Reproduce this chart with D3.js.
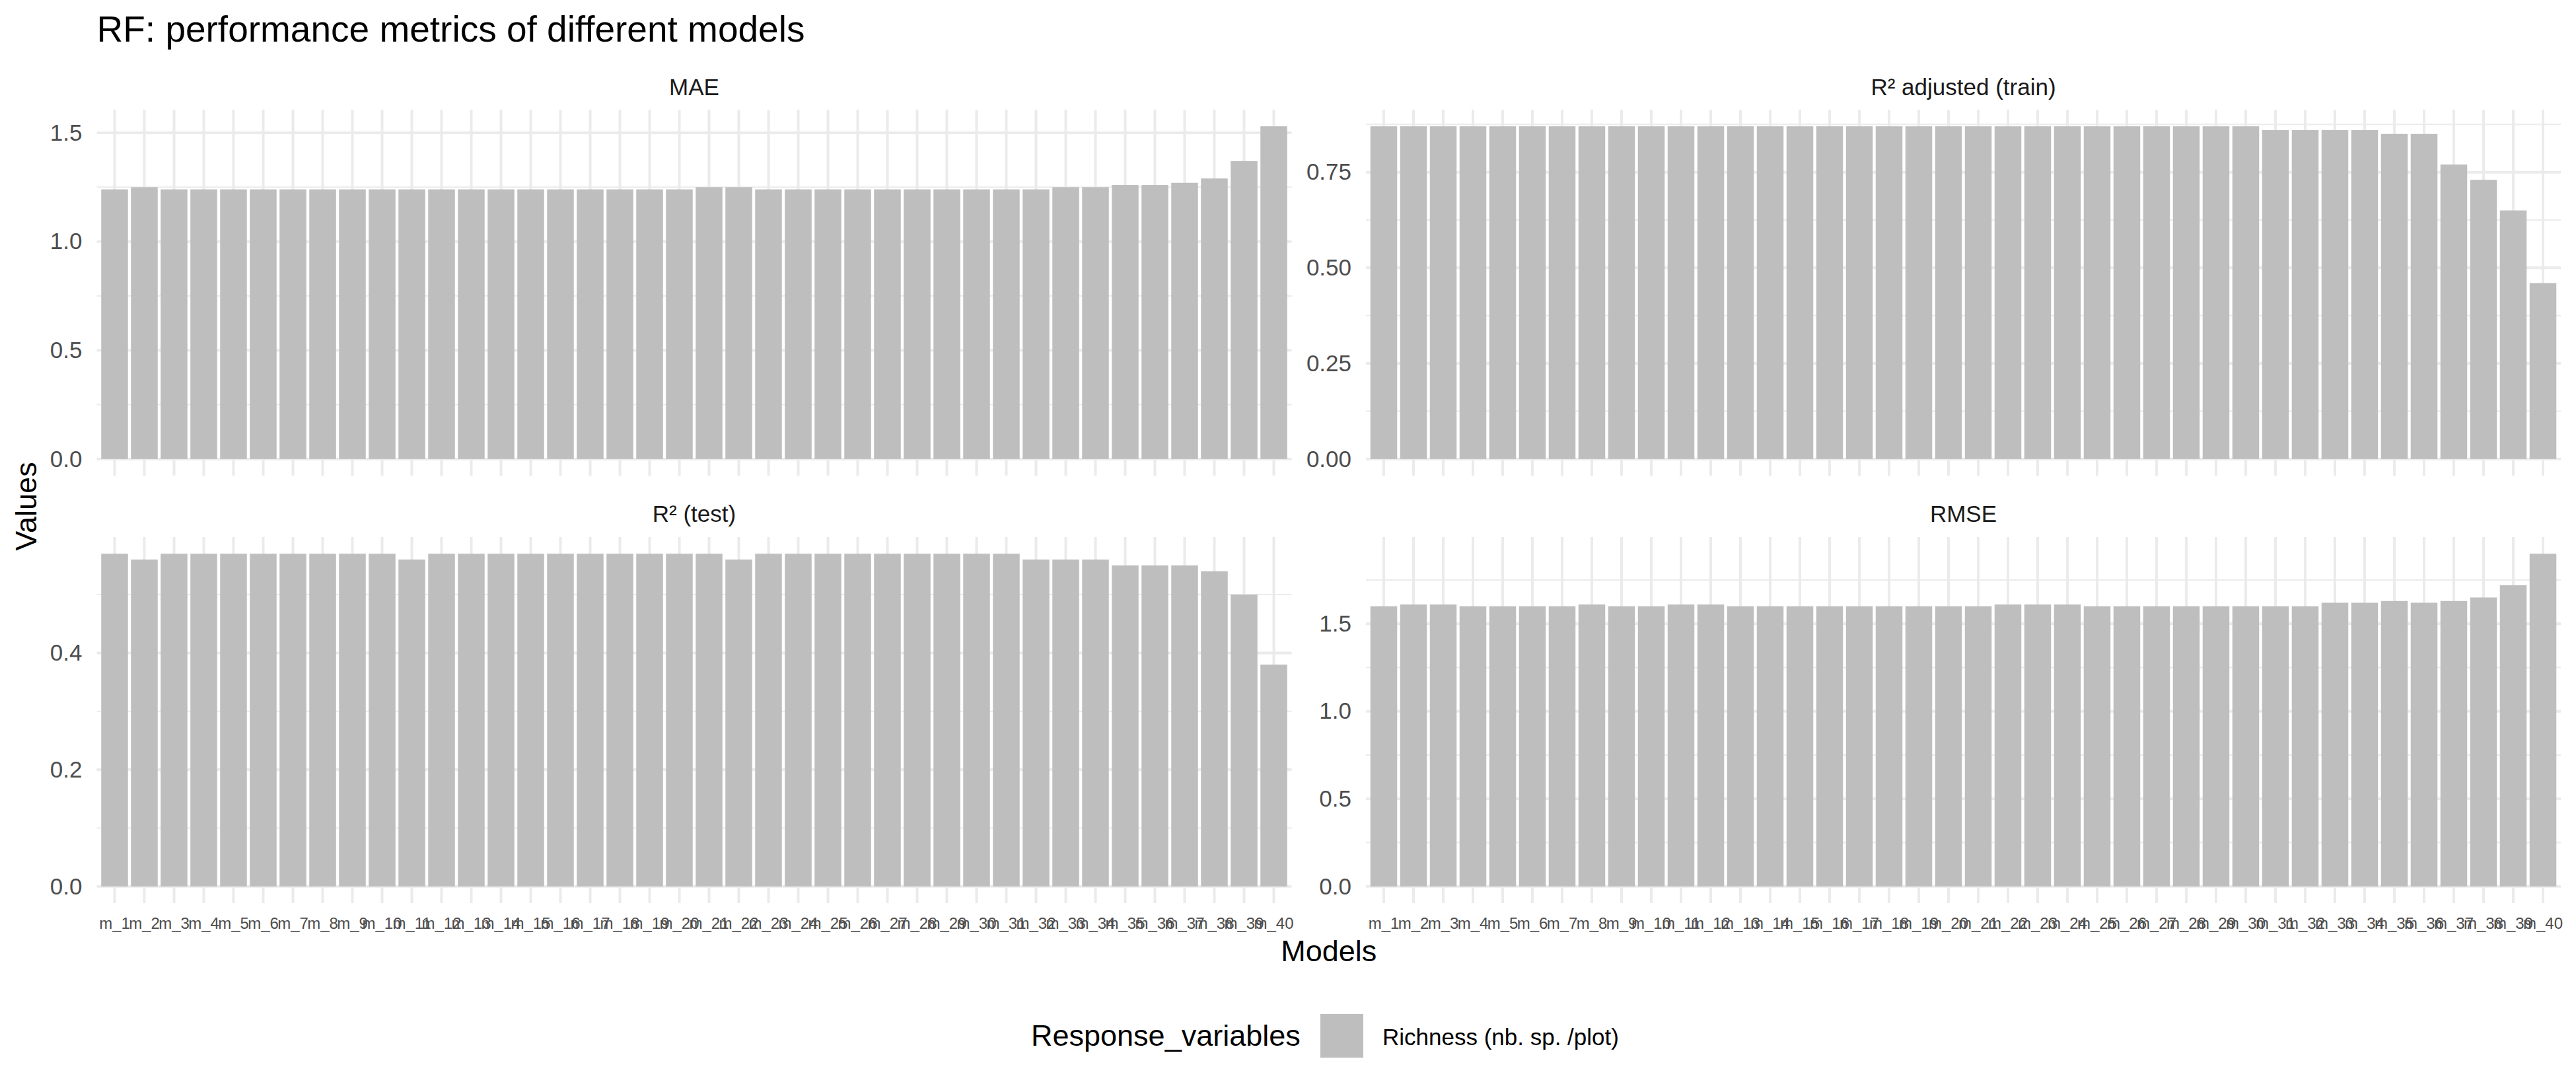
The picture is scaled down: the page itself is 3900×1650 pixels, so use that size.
<!DOCTYPE html>
<html>
<head>
<meta charset="utf-8">
<script src="https://cdn.jsdelivr.net/npm/d3@7"></script>
<style>
  html, body { margin: 0; padding: 0; background: #ffffff; }
  svg { display: block; font-family: "Liberation Sans", Arial, Helvetica, sans-serif; }
</style>
</head>
<body>
<svg id="chart" width="3900" height="1650"></svg>
<script>
// ---------------- DATA ----------------
const models = ["m_1","m_2","m_3","m_4","m_5","m_6","m_7","m_8","m_9","m_10",
  "m_11","m_12","m_13","m_14","m_15","m_16","m_17","m_18","m_19","m_20",
  "m_21","m_22","m_23","m_24","m_25","m_26","m_27","m_28","m_29","m_30",
  "m_31","m_32","m_33","m_34","m_35","m_36","m_37","m_38","m_39","m_40"];

const maeValues = [1.24,1.25,1.24,1.24,1.24,1.24,1.24,1.24,1.24,1.24,
  1.24,1.24,1.24,1.24,1.24,1.24,1.24,1.24,1.24,1.24,
  1.25,1.25,1.24,1.24,1.24,1.24,1.24,1.24,1.24,1.24,
  1.24,1.24,1.25,1.25,1.26,1.26,1.27,1.29,1.37,1.53];

const r2AdjTrainValues = [0.87,0.87,0.87,0.87,0.87,0.87,0.87,0.87,0.87,0.87,
  0.87,0.87,0.87,0.87,0.87,0.87,0.87,0.87,0.87,0.87,
  0.87,0.87,0.87,0.87,0.87,0.87,0.87,0.87,0.87,0.87,
  0.86,0.86,0.86,0.86,0.85,0.85,0.77,0.73,0.65,0.46];

const r2TestValues = [0.57,0.56,0.57,0.57,0.57,0.57,0.57,0.57,0.57,0.57,
  0.56,0.57,0.57,0.57,0.57,0.57,0.57,0.57,0.57,0.57,
  0.57,0.56,0.57,0.57,0.57,0.57,0.57,0.57,0.57,0.57,
  0.57,0.56,0.56,0.56,0.55,0.55,0.55,0.54,0.50,0.38];

const rmseValues = [1.60,1.61,1.61,1.60,1.60,1.60,1.60,1.61,1.60,1.60,
  1.61,1.61,1.60,1.60,1.60,1.60,1.60,1.60,1.60,1.60,
  1.60,1.61,1.61,1.61,1.60,1.60,1.60,1.60,1.60,1.60,
  1.60,1.60,1.62,1.62,1.63,1.62,1.63,1.65,1.72,1.90];

const facetTitles = ["MAE", "R² adjusted (train)", "R² (test)", "RMSE"];
const maeTicks = [0, 0.5, 1.0, 1.5];
const r2AdjTicks = [0, 0.25, 0.50, 0.75];
const r2TestTicks = [0, 0.2, 0.4];
const rmseTicks = [0, 0.5, 1.0, 1.5];
const tickFormats = [".1f", ".2f", ".1f", ".1f"];

const chartTitle = "RF: performance metrics of different models";
const xTitle = "Models";
const yTitle = "Values";
const legendTitle = "Response_variables";
const legendLabels = ["Richness (nb. sp. /plot)"];

// ---------------- LAYOUT ----------------
const FONT = '"Liberation Sans", Arial, Helvetica, sans-serif';
const BAR = "#BEBEBE";
const GRID = "#EBEBEB";
const colsX = [[146.5, 1955.5], [2068, 3877]];
const rowsY = [[166, 720], [813, 1367]];
const stripBaseline = [144, 790];

const facets = [
  {title: facetTitles[0], values: maeValues, ticks: maeTicks, fmt: tickFormats[0], col: 0, row: 0},
  {title: facetTitles[1], values: r2AdjTrainValues, ticks: r2AdjTicks, fmt: tickFormats[1], col: 1, row: 0},
  {title: facetTitles[2], values: r2TestValues, ticks: r2TestTicks, fmt: tickFormats[2], col: 0, row: 1},
  {title: facetTitles[3], values: rmseValues, ticks: rmseTicks, fmt: tickFormats[3], col: 1, row: 1}
];

const svg = d3.select("#chart");
svg.append("rect").attr("width", 3900).attr("height", 1650).attr("fill", "#ffffff");

facets.forEach(f => {
  const [x0, x1] = colsX[f.col];
  const [y0, y1] = rowsY[f.row];
  const x = d3.scaleBand().domain(models).range([x0, x1]).paddingInner(0.1).paddingOuter(0.15);
  const vmax = d3.max(f.values);
  const y = d3.scaleLinear().domain([-0.05 * vmax, 1.05 * vmax]).range([y1, y0]);
  const [dLo, dHi] = y.domain();

  const g = svg.append("g");

  // minor gridlines: midpoints between major breaks (and beyond) within range
  const step = f.ticks[1] - f.ticks[0];
  const minors = [];
  for (let i = 0; i <= f.ticks.length; i++) {
    const m = f.ticks[0] + (i - 0.5) * step;
    if (m > dLo && m < dHi) minors.push(m);
  }
  g.selectAll(".minor").data(minors).join("line")
    .attr("x1", x0).attr("x2", x1)
    .attr("y1", d => y(d)).attr("y2", d => y(d))
    .attr("stroke", GRID).attr("stroke-width", 2);

  // major horizontal gridlines
  g.selectAll(".major").data(f.ticks).join("line")
    .attr("x1", x0).attr("x2", x1)
    .attr("y1", d => y(d)).attr("y2", d => y(d))
    .attr("stroke", GRID).attr("stroke-width", 4);

  // vertical gridlines at categories
  g.selectAll(".vgrid").data(models).join("line")
    .attr("x1", d => x(d) + x.bandwidth() / 2).attr("x2", d => x(d) + x.bandwidth() / 2)
    .attr("y1", y0).attr("y2", y1)
    .attr("stroke", GRID).attr("stroke-width", 4);

  // bars
  g.selectAll(".bar").data(models).join("rect")
    .attr("x", d => x(d))
    .attr("width", x.bandwidth())
    .attr("y", (d, i) => y(f.values[i]))
    .attr("height", (d, i) => y(0) - y(f.values[i]))
    .attr("fill", BAR);

  // y axis labels
  const fmt = d3.format(f.fmt);
  const yAxis = d3.axisLeft(y).tickValues(f.ticks).tickFormat(fmt).tickSize(0).tickPadding(22);
  const ya = svg.append("g").attr("transform", `translate(${x0},0)`).call(yAxis);
  ya.select(".domain").remove();
  ya.selectAll("text").attr("font-family", FONT).attr("font-size", 35).attr("fill", "#4D4D4D");

  // x axis labels (bottom row only)
  if (f.row === 1) {
    const xAxis = d3.axisBottom(x).tickSize(0).tickPadding(0);
    const xa = svg.append("g").attr("transform", `translate(0,1406)`).call(xAxis);
    xa.select(".domain").remove();
    xa.selectAll("text").attr("font-family", FONT).attr("font-size", 24).attr("fill", "#4D4D4D")
      .attr("dy", 0).attr("y", 0);
  }

  // strip title
  svg.append("text")
    .attr("x", (x0 + x1) / 2).attr("y", stripBaseline[f.row])
    .attr("text-anchor", "middle")
    .attr("font-family", FONT).attr("font-size", 35).attr("fill", "#1A1A1A")
    .text(f.title);
});

// chart title
svg.append("text").attr("x", 146.5).attr("y", 63)
  .attr("font-family", FONT).attr("font-size", 55).attr("fill", "#000000")
  .text(chartTitle);

// axis titles
svg.append("text").attr("x", (colsX[0][0] + colsX[1][1]) / 2).attr("y", 1455)
  .attr("text-anchor", "middle")
  .attr("font-family", FONT).attr("font-size", 45).attr("fill", "#000000")
  .text(xTitle);

svg.append("text")
  .attr("transform", `translate(55,${(rowsY[0][0] + rowsY[1][1]) / 2}) rotate(-90)`)
  .attr("text-anchor", "middle")
  .attr("font-family", FONT).attr("font-size", 45).attr("fill", "#000000")
  .text(yTitle);

// legend
const legend = svg.append("g");
legend.append("text").attr("x", 1561).attr("y", 1583)
  .attr("font-family", FONT).attr("font-size", 45).attr("fill", "#000000")
  .text(legendTitle);
legend.selectAll(".key").data(legendLabels).join("rect")
  .attr("x", 1999).attr("y", 1535).attr("width", 65).attr("height", 66)
  .attr("fill", BAR);
legend.selectAll(".lab").data(legendLabels).join("text")
  .attr("x", 2093).attr("y", 1582)
  .attr("font-family", FONT).attr("font-size", 35).attr("fill", "#000000")
  .text(d => d);
</script>
</body>
</html>
